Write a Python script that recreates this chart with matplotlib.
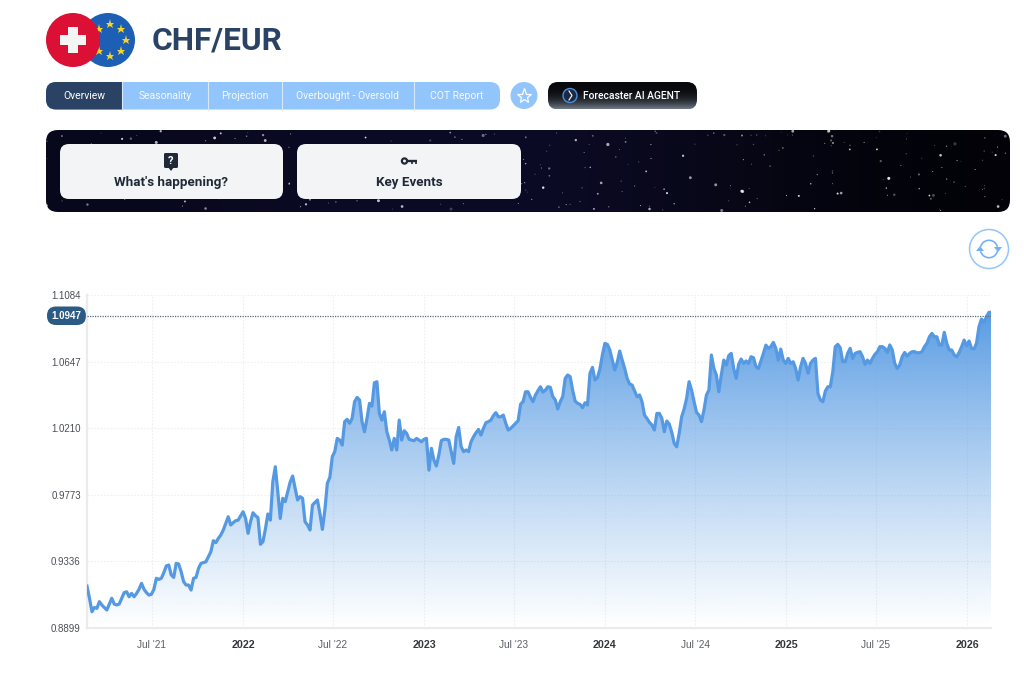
import numpy as np
import pandas as pd
import matplotlib
matplotlib.use("Agg")
import matplotlib.pyplot as plt
import matplotlib.dates as mdates
from matplotlib.patches import FancyBboxPatch, Circle, Rectangle, Polygon, Wedge, PathPatch

# CHF/EUR closes, one every 5 days
closes_2021 = [
    .9174, .9094, .9006, .9034, .9028, .9072, .9050, .9034, .9017, .9056, .9094, .9056, .9050, .9056, .9094, .9131,
    .9137, .9104, .9126, .9104, .9126, .9153, .9192, .9153, .9131, .9115, .9120, .9153, .9225, .9218, .9225, .9262,
    .9306, .9312, .9247, .9231, .9323, .9319, .9268, .9203, .9181, .9181, .9148, .9225, .9231, .9290, .9323, .9328,
    .9334, .9367, .9400, .9472, .9459, .9487, .9509, .9542, .9586, .9629, .9575, .9590, .9603, .9607, .9634, .9662,
]
closes_2022 = [
    .9618, .9520, .9596, .9655, .9636, .9623, .9448, .9465, .9548, .9647, .9607, .9859, .9957, .9793, .9618, .9750,
    .9728, .9793, .9857, .9896, .9815, .9739, .9761, .9750, .9596, .9575, .9542, .9706, .9723, .9739, .9651, .9546,
    .9673, .9848, .9887, 1.0023, 1.0056, 1.0143, 1.0132, 1.0099, 1.0253, 1.0268, 1.0242, 1.0274, 1.0384, 1.0412,
    1.0395, 1.0253, 1.0187, 1.0274, 1.0373, 1.0355, 1.0508, 1.0515, 1.0307, 1.0263, 1.0318, 1.0187, 1.0132, 1.0067,
    1.0143, 1.0067, 1.0263,
]
closes_2023 = [
    1.0132, 1.0193, 1.0176, 1.0137, 1.0132, 1.0128, 1.0143, 1.0132, 1.0121, 1.0137, 1.0143, .9935, 1.0078, 1.0001,
    .9962, 1.0034, 1.0128, 1.0137, 1.0137, 1.0132, 1.0056, .9979, 1.0154, 1.0215, 1.0089, 1.0056, 1.0067, 1.0056,
    1.0121, 1.0154, 1.0180, 1.0202, 1.0165, 1.0209, 1.0246, 1.0253, 1.0263, 1.0292, 1.0312, 1.0285, 1.0285, 1.0296,
    1.0242, 1.0198, 1.0209, 1.0226, 1.0242, 1.0259, 1.0368, 1.0384, 1.0449, 1.0449, 1.0412, 1.0384, 1.0428, 1.0456,
    1.0482, 1.0447, 1.0460, 1.0482, 1.0478, 1.0417,
]
closes_2024 = [
    1.0395, 1.0336, 1.0384, 1.0417, 1.0537, 1.0559, 1.0548, 1.0460, 1.0388, 1.0373, 1.0366, 1.0344, 1.0377, 1.0362,
    1.0570, 1.0609, 1.0526, 1.0541, 1.0598, 1.0690, 1.0766, 1.0760, 1.0723, 1.0657, 1.0592, 1.0642, 1.0716, 1.0657,
    1.0602, 1.0537, 1.0500, 1.0493, 1.0454, 1.0417, 1.0428, 1.0384, 1.0296, 1.0274, 1.0248, 1.0231, 1.0198, 1.0307,
    1.0307, 1.0274, 1.0187, 1.0257, 1.0237, 1.0183, 1.0110, 1.0088, 1.0176, 1.0285, 1.0336, 1.0406, 1.0515, 1.0460,
    1.0384, 1.0314, 1.0296, 1.0253, 1.0329, 1.0428,
]
closes_2025 = [
    1.0460, 1.0690, 1.0602, 1.0559, 1.0449, 1.0559, 1.0657, 1.0624, 1.0686, 1.0701, 1.0602, 1.0537, 1.0629, 1.0664,
    1.0635, 1.0651, 1.0635, 1.0679, 1.0672, 1.0613, 1.0602, 1.0651, 1.0701, 1.0755, 1.0734, 1.0745, 1.0773, 1.0734,
    1.0657, 1.0729, 1.0657, 1.0635, 1.0668, 1.0635, 1.0646, 1.0602, 1.0526, 1.0613, 1.0668, 1.0635, 1.0570, 1.0635,
    1.0657, 1.0668, 1.0438, 1.0395, 1.0384, 1.0454, 1.0482, 1.0482, 1.0581, 1.0745, 1.0760, 1.0738, 1.0646, 1.0646,
    1.0701, 1.0734,
]
closes_2026 = [
    1.0668, 1.0701, 1.0707, 1.0712, 1.0679, 1.0629, 1.0657, 1.0635, 1.0668, 1.0694, 1.0712, 1.0745, 1.0745, 1.0734,
    1.0707, 1.0756, 1.0723, 1.0635, 1.0602, 1.0624, 1.0679, 1.0707, 1.0683, 1.0701, 1.0712, 1.0712, 1.0705, 1.0705,
    1.0712, 1.0745, 1.0767, 1.0810, 1.0832, 1.0810, 1.0810, 1.0756, 1.0756, 1.0839, 1.0767, 1.0723, 1.0723, 1.0690,
    1.0679, 1.0707, 1.0745, 1.0788, 1.0751, 1.0782, 1.0734, 1.0729, 1.0767, 1.0876, 1.0926, 1.0904, 1.0941, 1.0970,
    1.0970,
]
closes = closes_2021 + closes_2022 + closes_2023 + closes_2024 + closes_2025 + closes_2026
dates = pd.date_range("2021-02-20", periods=len(closes), freq="5D")

y_ticks = [0.8899, 0.9336, 0.9773, 1.0210, 1.0647, 1.1084]
y_labels = ["0.8899", "0.9336", "0.9773", "1.0210", "1.0647", "1.1084"]
x_ticks = ["2021-07-01", "2022-01-01", "2022-07-01", "2023-01-01", "2023-07-01",
           "2024-01-01", "2024-07-01", "2025-01-01", "2025-07-01", "2026-01-01"]
x_labels = ["Jul '21", "2022", "Jul '22", "2023", "Jul '23", "2024", "Jul '24", "2025", "Jul '25", "2026"]
last_price = 1.0947

tabs = ["Overview", "Seasonality", "Projection", "Overbought - Oversold", "COT Report"]
tab_edges = [46, 122, 208, 282, 414, 500]

W, H = 1024, 676
NAVY = "#2a4365"
LIGHT = "#93c5fd"
LINE = "#5599e3"

plt.rcParams["font.family"] = ["Roboto", "DejaVu Sans"]
fig = plt.figure(figsize=(W / 100, H / 100), dpi=100, facecolor="white")

# page layer in pixel coordinates
ui = fig.add_axes([0, 0, 1, 1])
ui.set_xlim(0, W)
ui.set_ylim(H, 0)
ui.axis("off")


def round_box(x0, y0, x1, y1, r, **kw):
    p = FancyBboxPatch((x0 + r, y0 + r), x1 - x0 - 2 * r, y1 - y0 - 2 * r,
                       boxstyle="round,pad=%f,rounding_size=%f" % (r, r), linewidth=kw.pop("linewidth", 0), **kw)
    ui.add_patch(p)
    return p


# flags
ui.add_patch(Circle((108, 40), 27, color="#1d5fb4", lw=0))
for a in np.arange(0, 360, 45):
    ui.plot(110 + 16 * np.cos(np.radians(a)), 40 + 16 * np.sin(np.radians(a)), marker="*", ms=6.5, color="#f5d327", mew=0)
ui.add_patch(Circle((73, 40), 27, color="#dc0f35", lw=0, zorder=3))
ui.add_patch(Rectangle((60, 35), 26, 10, color="#f4f4f4", lw=0, zorder=4))
ui.add_patch(Rectangle((68, 27), 10, 26, color="#f4f4f4", lw=0, zorder=4))
ui.text(152, 41, "CHF/EUR", fontsize=22.8, fontweight="bold", color=NAVY, va="center", ha="left")

# tabs
round_box(46, 82, 500, 109.5, 10, facecolor=LIGHT)
clip = round_box(46, 82, 500, 109.5, 10, facecolor="none")
ui.add_patch(Rectangle((46, 82), 76, 27.5, color=NAVY, lw=0, clip_path=clip))
for i, name in enumerate(tabs):
    ui.text((tab_edges[i] + tab_edges[i + 1]) / 2, 96, name, fontsize=7.5, color="white",
            ha="center", va="center", alpha=1 if i == 0 else 0.9)
    if i > 0:
        ui.plot([tab_edges[i], tab_edges[i]], [82, 109.5], color="#d8e8fb", lw=0.8)

ui.add_patch(Circle((524, 95.5), 13.5, color=LIGHT, lw=0))
ui.plot(524, 95.5, marker="*", ms=11, mfc="none", mec="white", mew=0.9)

# forecaster button
btn = round_box(548, 82, 697, 109.5, 10, facecolor="none")
grad = np.linspace(0, 1, 64).reshape(-1, 1)
im = ui.imshow(grad ** 3, extent=(548, 697, 109.5, 82), cmap=matplotlib.colors.LinearSegmentedColormap.from_list(
    "btn", ["#08090c", "#707a88"]), aspect="auto", zorder=2, origin="upper")
im.set_clip_path(btn)
ui.add_patch(Circle((570, 95.5), 7, fc="#1b2a44", ec="#4a8fd8", lw=1, zorder=3))
ui.plot([569, 572, 569], [91, 95.5, 100], color="white", lw=0.8, zorder=4)
ui.text(583, 96, "Forecaster AI AGENT", fontsize=7.4, fontweight="medium", color="white", va="center", zorder=4)

# banner
banner = round_box(46, 130, 1010, 212, 12, facecolor="none")
bg = np.array([[0.0, 0.28, 0.5, 0.7, 1.0]])
cm_banner = matplotlib.colors.LinearSegmentedColormap.from_list(
    "sky", ["#08081c", "#0b0a24", "#0c0b26", "#070716", "#020208"])
im = ui.imshow(bg, extent=(46, 1010, 212, 130), cmap=cm_banner, aspect="auto", interpolation="bicubic", zorder=1)
im.set_clip_path(banner)


# scattered star field for the banner background, no chart data in it
def scatter_hash(i, a):
    return (np.sin(i * a) * 43758.5453) % 1


idx = np.arange(1, 321)
sx = 46 + 964 * scatter_hash(idx, 12.9898)
sy = 131 + 80 * scatter_hash(idx, 78.233)
sz = 0.5 + 5 * scatter_hash(idx, 39.425) ** 4
sa = 0.2 + 0.7 * scatter_hash(idx, 93.989)
stars = ui.scatter(sx, sy, s=sz, c="white", alpha=sa, linewidths=0, zorder=2)
stars.set_clip_path(banner)

round_box(60, 144, 283, 199, 9, facecolor="#f3f4f6", zorder=3)
round_box(297, 144, 521, 199, 9, facecolor="#f3f4f6", zorder=3)
ui.text(171.5, 182.5, "What's happening?", fontsize=9.6, fontweight="bold", color="#1f2937", ha="center", va="center", zorder=4)
ui.text(409, 182.5, "Key Events", fontsize=9.6, fontweight="bold", color="#1f2937", ha="center", va="center", zorder=4)

# question icon
round_box(164, 153, 178, 168, 1.5, facecolor="#1f2937", zorder=4)
ui.add_patch(Polygon([[168, 167], [174, 167], [171, 171]], color="#1f2937", lw=0, zorder=4))
ui.text(171, 160.5, "?", fontsize=8, fontweight="bold", color="white", ha="center", va="center", zorder=5)
# key icon
ui.add_patch(Circle((404.5, 161), 2.6, fc="none", ec="#1f2937", lw=1.6, zorder=4))
ui.plot([407, 417], [161, 161], color="#1f2937", lw=1.7, zorder=4, solid_capstyle="butt")
ui.plot([412, 412], [161, 164], color="#1f2937", lw=1.2, zorder=4, solid_capstyle="butt")
ui.plot([416, 416], [161, 164], color="#1f2937", lw=1.2, zorder=4, solid_capstyle="butt")

# refresh button
ui.add_patch(Circle((989, 249), 19.5, fc="white", ec=LIGHT, lw=1.1))
ui.add_patch(Wedge((989, 249), 9.5, 195, 345, width=1.6, color="#6fb0f8", lw=0))
ui.add_patch(Wedge((989, 249), 9.5, 15, 165, width=1.6, color="#6fb0f8", lw=0))
ui.add_patch(Polygon([[994, 247], [1002, 247], [998, 252]], color="#6fb0f8", lw=0))
ui.add_patch(Polygon([[976, 251], [984, 251], [980, 246]], color="#6fb0f8", lw=0))

# last price pill sits left of the plot area
round_box(47, 306.5, 86, 325, 9, facecolor="#2b5b84", zorder=6)

# chart, plot area is x 87..991, y 295..628 in page pixels
ax = fig.add_axes([87 / W, 1 - 628 / H, (991 - 87) / W, (628 - 295) / H])
ax.patch.set_alpha(0)
x = mdates.date2num(dates)
x_end = x[0] + 904 * 365.25 / 181

tick_pos = mdates.date2num(pd.to_datetime(x_ticks))
ax.set_xticks(tick_pos)
ax.set_xticklabels(x_labels)
ax.set_yticks(y_ticks)
ax.set_yticklabels(y_labels)
ax.tick_params(length=0)
ax.tick_params(axis="y", pad=4.5, labelsize=7.0, labelcolor="#4b4f56", labelfontfamily="Liberation Sans")
ax.tick_params(axis="x", pad=9, labelsize=7.3, labelcolor="#5b5f66", labelfontfamily="Liberation Sans")
for lab in ax.get_xticklabels():
    if "'" not in lab.get_text():
        lab.set_fontweight("bold")
        lab.set_fontsize(7.7)
        lab.set_color("#33363b")
ax.grid(True, color="#efefef", lw=0.8, ls=(0, (1.5, 1.5)))
ax.set_axisbelow(True)
for s in ["top", "right"]:
    ax.spines[s].set_visible(False)
for s in ["left", "bottom"]:
    ax.spines[s].set_color("#ebebeb")
    ax.spines[s].set_linewidth(1.6)

# area gradient, clipped to the area below the line
area = ax.fill_between(x, closes, y_ticks[0], color="none", lw=0)
cm_area = matplotlib.colors.LinearSegmentedColormap.from_list(
    "area", [(0.33, 0.60, 0.89, 1.0), (0.33, 0.60, 0.89, 0.0)])
fade = np.linspace(0, 1, 256).reshape(-1, 1) ** 0.85
grad = ax.imshow(fade, extent=(x[0], x[-1], y_ticks[0], 1.0985), cmap=cm_area,
                 aspect="auto", zorder=2, origin="upper")
grad.set_clip_path(PathPatch(area.get_paths()[0], transform=ax.transData))
ax.set_xlim(x[0], x_end)
ax.set_ylim(y_ticks[0], y_ticks[-1])

ax.plot(x, closes, color=LINE, lw=2.3, zorder=3, solid_joinstyle="round")
ax.axhline(last_price, color="#5d6b7c", lw=0.9, ls=(0, (1, 1)), zorder=4)
ax.annotate("%.4f" % last_price, xy=(0, last_price), xycoords=("axes fraction", "data"), xytext=(-21, 0),
            textcoords="offset pixels", color="white", fontsize=7.0, fontweight="bold",
            family="Liberation Sans", ha="center", va="center", annotation_clip=False, zorder=7)

fig.savefig("out.png", dpi=100, facecolor="white")
